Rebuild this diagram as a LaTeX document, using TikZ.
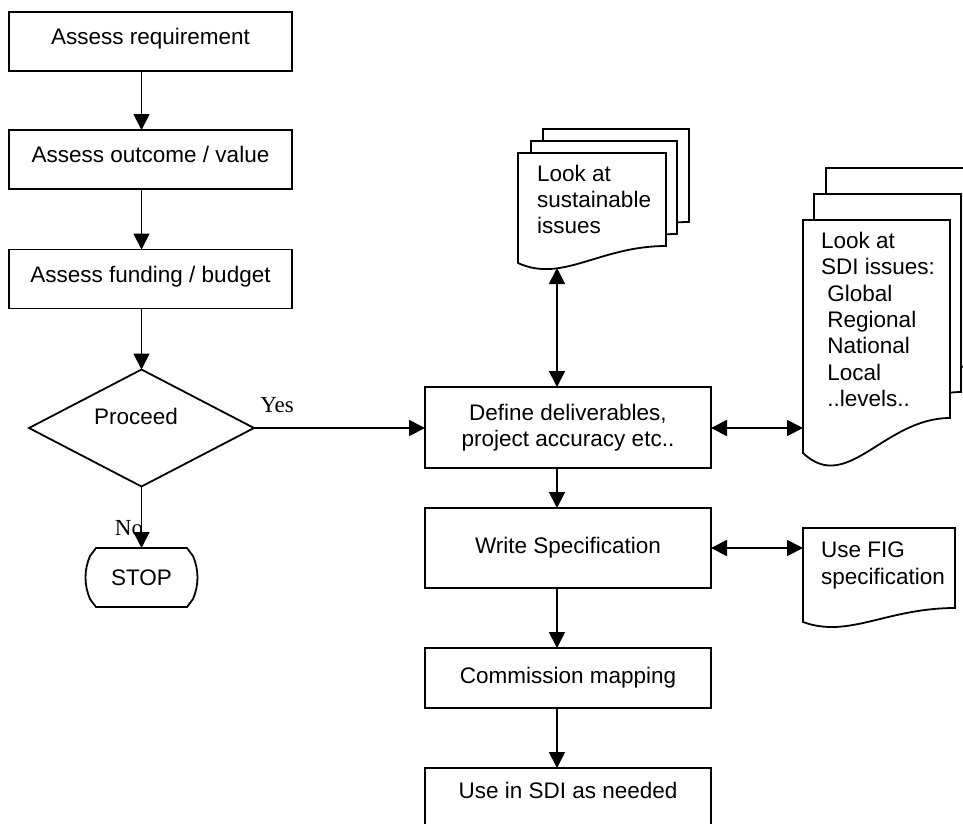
\documentclass[tikz,border=0pt]{standalone}
\usepackage{fontspec}
\setmainfont{Liberation Sans}
\newfontfamily\seriff{Liberation Serif}
\usetikzlibrary{arrows.meta,shapes.geometric}
\newcommand{\docsheet}[5]{%
  \filldraw[docline] (#1,#2) -- ({#1+#3},#2) -- ({#1+#3},{#4-#5})
    .. controls ({#1+0.55*#3},{#4-#5}) and ({#1+0.3*#3},{#4+1.2*#5}) .. (#1,#4) -- cycle;}
\begin{document}
\begin{tikzpicture}[x=1pt,y=-1pt,
  every node/.style={font=\fontsize{22.5}{26.5}\selectfont},
  box/.style={draw, line width=1.8pt, rectangle, inner sep=0pt, outer sep=0pt, fill=white},
  lbox/.style={box, minimum width=283pt, minimum height=59pt, text height=16pt, text depth=10pt},
  cbox/.style={box, minimum width=286pt},
  arr/.style={line width=1.8pt, -{Triangle[length=16pt,width=16pt]}},
  barr/.style={line width=1.8pt, {Triangle[length=16pt,width=16pt]}-{Triangle[length=16pt,width=16pt]}},
  docline/.style={draw=black, line width=1.8pt, fill=white, line join=miter},
  doctext/.style={anchor=north west, inner sep=0pt, align=left},
  lbl/.style={font=\seriff\fontsize{23}{26}\selectfont, inner sep=0pt},
  ]
\useasboundingbox (0,0) rectangle (963,823);
\clip (0,0) rectangle (963,823);
\fill[white] (0,0) rectangle (963,823);

% column reference coordinates
\coordinate (lx) at (141.5,0);
\coordinate (cx) at (557,0);

% left column
\node[lbox] (req) at (150.5,41.5) {Assess requirement};
\node[lbox] (out) at (150.5,159.5) {Assess outcome / value};
\node[lbox] (bud) at (150.5,279) {Assess funding / budget};
\node[diamond, draw, line width=1.8pt, minimum width=225pt, minimum height=117pt, inner sep=0pt, outer sep=0pt] (proc) at (141.5,428) {};
\node[inner sep=0pt] (proct) at (136,416) {Proceed};

\node[minimum width=113pt, minimum height=59pt, inner sep=0pt, outer sep=0pt] (stop) at (141.5,577.5) {STOP};
\draw[line width=1.8pt] (96,548) -- (187,548) -- (193,556) .. controls (199,570) and (199,585) .. (193,599)
   -- (187,607) -- (96,607) -- (90,599) .. controls (84,585) and (84,570) .. (90,556) -- cycle;

\node[lbl] (yes) at (277,405) {Yes};
\node[lbl] (no) at (129,528) {No};

% centre column
\node[cbox, minimum height=81pt, align=center] (def) at (568,427.5) {Define deliverables,\\project accuracy etc..};
\node[cbox, minimum height=80pt] (ws) at (568,548) {Write Specification};
\node[cbox, minimum height=60pt] (cm) at (568,678) {Commission mapping};
\node[cbox, minimum height=100pt, text height=16pt, text depth=56pt] (use) at (568,818) {Use in SDI as needed};

% sustainable document stack
\docsheet{543}{129}{146}{239}{17}
\docsheet{531}{141}{146}{251}{17}
\docsheet{518}{153}{148}{263}{17}
\node[doctext, font=\fontsize{22.5}{26}\selectfont] (sust) at (537,165) {Look at\\sustainable\\issues};
\coordinate (sustb) at (557,268);

% SDI document stack
\docsheet{826}{168}{147}{401}{35}
\docsheet{814}{194}{147}{427}{35}
\docsheet{803}{220}{147}{453}{35}
\node[doctext, font=\fontsize{22.5}{26.3}\selectfont] (sdi) at (821,232) {Look at\\SDI issues:\\\ Global\\\ Regional\\\ National\\\ Local\\\ ..levels..};
\coordinate (sdil) at (803,428);

% FIG document
\docsheet{803}{528}{152}{622}{14}
\node[doctext, font=\fontsize{22.5}{27}\selectfont] (fig) at (821,542) {Use FIG\\specification};
\coordinate (figl) at (803,548);

% connectors
\draw[arr] (req.south -| lx) -- (out.north -| lx);
\draw[arr] (out.south -| lx) -- (bud.north -| lx);
\draw[arr] (bud.south -| lx) -- (proc.north);
\draw[arr] (proc.south) -- (stop.north);
\draw[arr] (proc.east) -- (proc.east -| def.west);
\draw[barr] (def.north -| cx) -- (sustb);
\draw[arr] (def.south -| cx) -- (ws.north -| cx);
\draw[arr] (ws.south -| cx) -- (cm.north -| cx);
\draw[arr] (cm.south -| cx) -- (use.north -| cx);
\draw[barr] (def.east |- sdil) -- (sdil);
\draw[barr] (ws.east |- figl) -- (figl);
\end{tikzpicture}
\end{document}
